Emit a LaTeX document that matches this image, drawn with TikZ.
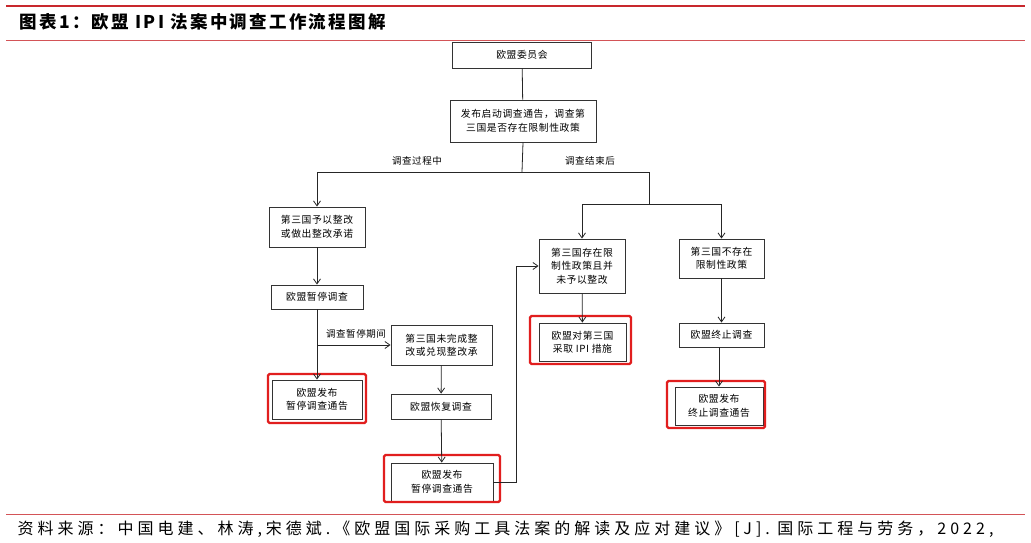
\documentclass[tikz,border=0pt]{standalone}
\usepackage{fontspec}
\setmainfont{Noto Sans CJK SC}
\usetikzlibrary{arrows.meta}
\definecolor{rd}{RGB}{225,30,30}
\definecolor{ttl}{RGB}{200,40,45}
\begin{document}
\begin{tikzpicture}[x=1pt,y=-1pt,
  bx/.style={draw=black!80,line width=0.9pt,align=center,font=\fontsize{9.8}{13.5}\selectfont\addfontfeature{LetterSpace=6},inner sep=0pt},
  rbox/.style={draw=rd,line width=2.4pt,rounded corners=1.5pt},
  ar/.style={-{Straight Barb[length=5pt,width=7pt]},line width=0.8pt,black!85},
  ln/.style={line width=0.8pt,black!85},
  lab/.style={font=\fontsize{9.5}{11}\selectfont\addfontfeature{LetterSpace=6},inner sep=1pt}]
\useasboundingbox (0,0) rectangle (1031,543);
\fill[white] (0,0) rectangle (1031,543);
\draw[ttl,line width=2pt] (6,6) -- (1025,6);
\draw[ttl!80,line width=0.8pt] (6,40) -- (1025,40);
\draw[ttl!80,line width=0.6pt] (6,514) -- (1025,514);
\node[anchor=west,font=\fontsize{17.5}{19}\selectfont\bfseries\addfontfeature{LetterSpace=13}] (title) at (16,22) {图表1：欧盟 IPI 法案中调查工作流程图解};
\node[anchor=west,font=\fontsize{16}{18}\selectfont\addfontfeature{LetterSpace=25}] (src) at (14,529) {资料来源：中国电建、林涛,宋德斌.《欧盟国际采购工具法案的解读及应对建议》[J]. 国际工程与劳务，2022,};

\node[bx,minimum width=139,minimum height=26] (A) at (522,55) {欧盟委员会};
\node[bx,minimum width=146,minimum height=42] (B) at (523,121) {发布启动调查通告，调查第\\三国是否存在限制性政策};
\node[bx,minimum width=96,minimum height=40] (C) at (317,227) {第三国予以整改\\或做出整改承诺};
\node[bx,minimum width=92,minimum height=24] (D) at (317,297) {欧盟暂停调查};
\node[bx,minimum width=90,minimum height=39] (E) at (317,399.5) {欧盟发布\\暂停调查通告};
\node[bx,minimum width=101,minimum height=40] (F) at (441.5,345) {第三国未完成整\\改或兑现整改承};
\node[bx,minimum width=100,minimum height=25] (G) at (441,406.5) {欧盟恢复调查};
\node[bx,minimum width=102,minimum height=38] (H) at (442,482) {欧盟发布\\暂停调查通告};
\node[bx,minimum width=86,minimum height=54] (I) at (582,266) {第三国存在限\\制性政策且并\\未予以整改};
\node[bx,minimum width=87,minimum height=38] (J) at (582.5,342) {欧盟对第三国\\采取 IPI 措施};
\node[bx,minimum width=85,minimum height=39] (K) at (721.5,258.5) {第三国不存在\\限制性政策};
\node[bx,minimum width=85,minimum height=24] (L) at (721.5,335) {欧盟终止调查};
\node[bx,minimum width=88,minimum height=38] (M) at (719,406) {欧盟发布\\终止调查通告};

\draw[rbox] (268,374) rectangle (366,423);
\draw[rbox] (384,455) rectangle (500,502);
\draw[rbox] (530,316) rectangle (631,364);
\draw[rbox] (667,381) rectangle (765,428);

\coordinate (s1) at (522,172);
\coordinate (s2) at (649,204);
\coordinate (s3) at (317,345);
\coordinate (s4) at (516,482);
\draw[ln] (A) -- (B);
\draw[ln] (B.south) -- (s1);
\draw[ar] (s1) -| (C.north);
\draw[ln] (s1) -| (s2);
\draw[ar] (s2) -| (I.north);
\draw[ar] (s2) -| (K.north);
\node[lab] (l1) at (417,161) {调查过程中};
\node[lab] (l2) at (590,161) {调查结束后};
\draw[ar] (C) -- (D);
\draw[ar] (D) -- (E);
\draw[ar] (s3) -- (F.west);
\node[lab] (l3) at (356,334) {调查暂停期间};
\draw[ar] (F) -- (G);
\draw[ar] (G) -- (H);
\draw[ar] (H.east) -- (s4) |- (I.west);
\draw[ar] (I) -- (J);
\draw[ar] (K) -- (L);
\draw[ar] (L.south -| M.north) -- (M.north);
\end{tikzpicture}
\end{document}
